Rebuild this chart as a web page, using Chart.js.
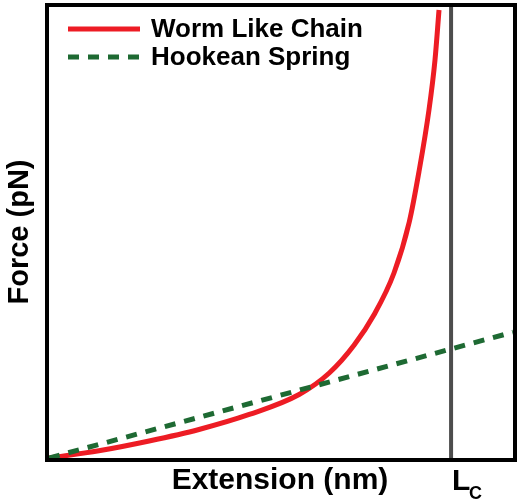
<!DOCTYPE html>
<html>
<head>
<meta charset="utf-8">
<script src="https://cdn.jsdelivr.net/npm/chart.js@4.4.1/dist/chart.umd.min.js"></script>
<style>
  html, body { margin: 0; padding: 0; background: #fff; }
  #wrap { width: 518px; height: 502px; }
</style>
</head>
<body>
<div id="wrap"><canvas id="forceChart" width="518" height="502"></canvas></div>
<script>
// --- data (extension in units of Lc, force in arbitrary units) ---
const wlcExtension = [0, 0.124, 0.249, 0.373, 0.498, 0.622, 0.697, 0.759, 0.808, 0.858, 0.896, 0.920, 0.945, 0.960, 0.970];
const wlcForce     = [0, 1.6, 3.77, 6.32, 9.65, 14.08, 18.85, 25.06, 31.71, 41.02, 52.33, 63.41, 77.16, 88.25, 99.33];
const hookeExtension = [0, 1.154];
const hookeForce     = [0, 27.9];
const contourLength = 1;
const forceMax = 100;
const extensionMax = 1.154;
const seriesLabels = ["Worm Like Chain", "Hookean Spring"];

const toPoints = (xs, ys) => xs.map((x, i) => ({ x: x, y: ys[i] }));

const FONT = "'Liberation Sans', Arial, sans-serif";

// frame, axis titles, Lc label and legend drawn on top of the chart
const decorations = {
  id: "decorations",
  afterDraw(chart) {
    const ctx = chart.ctx;
    const a = chart.chartArea;
    ctx.save();

    // plot frame
    ctx.strokeStyle = "#000";
    ctx.lineWidth = 4;
    ctx.strokeRect(a.left - 2, a.top - 2, a.right - a.left + 4, a.bottom - a.top + 4);

    ctx.fillStyle = "#000";
    // x title
    ctx.font = "bold 30px " + FONT;
    ctx.textAlign = "center";
    ctx.textBaseline = "alphabetic";
    ctx.fillText("Extension (nm)", 280, 489);

    // y title
    ctx.save();
    ctx.translate(28, 232);
    ctx.rotate(-Math.PI / 2);
    ctx.font = "bold 29px " + FONT;
    ctx.fillText("Force (pN)", 0, 0);
    ctx.restore();

    // Lc label under the contour length line
    const lx = chart.scales.x.getPixelForValue(contourLength);
    ctx.textAlign = "left";
    ctx.font = "bold 30px " + FONT;
    ctx.fillText("L", lx + 1, 490);
    ctx.font = "bold 18px " + FONT;
    ctx.fillText("C", lx + 18, 499);

    // legend
    const ds = chart.data.datasets;
    const rows = [{ d: ds[0], y: 29 }, { d: ds[1], y: 57 }];
    rows.forEach(r => {
      ctx.beginPath();
      ctx.strokeStyle = r.d.borderColor;
      ctx.lineWidth = r.d.borderWidth;
      ctx.setLineDash(r.d.borderDash || []);
      ctx.moveTo(68, r.y);
      ctx.lineTo(140, r.y);
      ctx.stroke();
      ctx.setLineDash([]);
      ctx.fillStyle = "#000";
      ctx.font = "bold 26px " + FONT;
      ctx.textBaseline = "middle";
      ctx.fillText(r.d.label, 151, r.y + 1);
    });

    ctx.restore();
  }
};

new Chart(document.getElementById("forceChart"), {
  type: "line",
  data: {
    datasets: [
      {
        label: seriesLabels[0],
        data: toPoints(wlcExtension, wlcForce),
        borderColor: "#ed1c24",
        borderWidth: 5,
        pointRadius: 0,
        cubicInterpolationMode: "monotone",
        order: 2
      },
      {
        label: seriesLabels[1],
        data: toPoints(hookeExtension, hookeForce),
        borderColor: "#1e6a33",
        borderWidth: 5,
        borderDash: [11, 9],
        pointRadius: 0,
        order: 1
      },
      {
        label: "Lc",
        data: [{ x: contourLength, y: 0 }, { x: contourLength, y: forceMax }],
        borderColor: "#4d4d4d",
        borderWidth: 4,
        pointRadius: 0,
        order: 3
      }
    ]
  },
  options: {
    responsive: false,
    devicePixelRatio: 1,
    animation: false,
    layout: { padding: { left: 49, top: 7, right: 5, bottom: 44 } },
    scales: {
      x: { type: "linear", min: 0, max: extensionMax, display: false },
      y: { type: "linear", min: 0, max: forceMax, display: false }
    },
    plugins: {
      legend: { display: false },
      tooltip: { enabled: false }
    }
  },
  plugins: [decorations]
});
</script>
</body>
</html>
